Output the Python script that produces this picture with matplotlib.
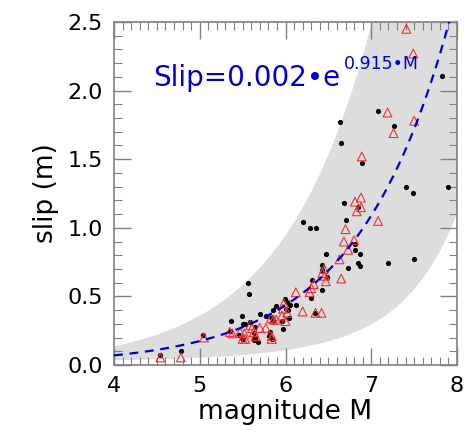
import numpy as np
import matplotlib
matplotlib.use('Agg')
import matplotlib.pyplot as plt

# black dots: magnitude, slip (m)
dot_m = [7.82, 7.08, 6.63, 7.26, 6.65, 6.89, 7.41, 7.49, 7.89, 6.68,
         6.85, 6.70, 6.20, 6.28, 6.35, 6.81, 6.81, 6.87, 6.84, 6.87,
         6.73, 7.19, 7.50, 6.47, 6.43, 6.42, 6.48, 6.31, 6.42, 6.30,
         6.34, 6.12, 5.99, 6.02, 6.05, 6.01, 6.03, 6.04, 5.96, 5.97,
         5.89, 5.85, 5.56, 5.58, 5.37, 5.49, 5.70, 5.77, 5.83, 5.86,
         5.82, 5.81, 5.84, 5.35, 5.51, 5.53, 5.46, 5.49, 5.51, 5.59,
         5.64, 5.63, 5.64, 5.63, 5.68, 5.04, 4.54, 4.78]
dot_slip = [2.11, 1.85, 1.77, 1.74, 1.62, 1.47, 1.30, 1.25, 1.30, 1.18,
            1.15, 1.06, 1.04, 1.00, 1.00, 0.88, 0.84, 0.81, 0.74, 0.72,
            0.71, 0.74, 0.77, 0.81, 0.73, 0.69, 0.64, 0.62, 0.55, 0.49,
            0.38, 0.44, 0.48, 0.46, 0.44, 0.41, 0.40, 0.34, 0.32, 0.26,
            0.43, 0.40, 0.60, 0.52, 0.32, 0.36, 0.37, 0.36, 0.35, 0.32,
            0.24, 0.21, 0.19, 0.25, 0.30, 0.30, 0.22, 0.20, 0.19, 0.31,
            0.28, 0.23, 0.20, 0.18, 0.17, 0.22, 0.07, 0.10]

# red open triangles
tri_m = [7.41, 7.49, 7.19, 7.50, 7.26, 6.89, 6.88, 6.81, 6.88, 6.83,
         7.08, 6.70, 6.68, 6.80, 6.73, 6.63, 6.65, 6.45, 6.43, 6.46,
         6.47, 6.30, 6.33, 6.28, 6.12, 6.20, 6.35, 6.42, 5.98, 5.97,
         5.96, 6.00, 6.02, 5.35, 5.47, 5.52, 5.50, 5.53, 5.59, 5.61,
         5.63, 5.65, 5.70, 5.77, 5.84, 5.83, 5.86, 5.89, 5.05, 4.54,
         4.78, 5.38, 5.84]
tri_slip = [2.45, 2.27, 1.84, 1.78, 1.69, 1.52, 1.22, 1.19, 1.15, 1.12,
            1.05, 0.99, 0.90, 0.91, 0.84, 0.77, 0.63, 0.70, 0.67, 0.65,
            0.61, 0.56, 0.59, 0.53, 0.53, 0.39, 0.38, 0.38, 0.45, 0.41,
            0.36, 0.32, 0.38, 0.24, 0.24, 0.23, 0.19, 0.19, 0.29, 0.27,
            0.24, 0.21, 0.27, 0.27, 0.21, 0.34, 0.33, 0.33, 0.20, 0.055,
            0.055, 0.23, 0.19]

# fitted curve slip = a * exp(b * M)
fit_a = 0.0018
fit_b = 0.915

# shaded band, read at a few magnitudes
band_m = [4.0, 5.0, 6.0, 7.0, 8.0]
band_lo = [0.037, 0.050, 0.10, 0.35, 1.03]
band_hi = [0.135, 0.37, 0.92, 2.5, 6.5]

blue = '#0000cc'
grey = '#808080'

fig = plt.figure(figsize=(4.66, 4.33), dpi=100)
ax = fig.add_axes([114 / 466, 1 - 365 / 433, 343 / 466, 343 / 433])

mm = np.linspace(4, 8, 200)
lo = np.exp(np.polyval(np.polyfit(band_m, np.log(band_lo), 2), mm))
hi = np.exp(np.polyval(np.polyfit(band_m, np.log(band_hi), 2), mm))
ax.fill_between(mm, lo, hi, color='#dddddd', lw=0, zorder=0)

ax.scatter(dot_m, dot_slip, s=14, color='black', zorder=2, lw=0)
ax.scatter(tri_m, tri_slip, s=40, marker='^', facecolor='none',
           edgecolor='#ee3333', lw=0.8, zorder=3)

ax.plot(mm, fit_a * np.exp(fit_b * mm), color=blue, ls=(0, (4, 3)), lw=1.6, zorder=4)

ax.text(0.114, 0.813, 'Slip=0.002\u2022e', transform=ax.transAxes,
        fontsize=20, color=blue, va='baseline', ha='left')
ax.text(0.671, 0.862, '0.915\u2022M', transform=ax.transAxes,
        fontsize=12.5, color=blue, va='baseline', ha='left')

ax.set_xlim(4, 8)
ax.set_ylim(0, 2.5)
ax.set_xticks([4, 5, 6, 7, 8])
ax.set_yticks([0, 0.5, 1.0, 1.5, 2.0, 2.5])
ax.set_yticklabels(['0.0', '0.5', '1.0', '1.5', '2.0', '2.5'])
ax.set_xticks(np.arange(4, 8.01, 0.1), minor=True)
ax.set_yticks(np.arange(0, 2.51, 0.1), minor=True)
ax.tick_params(which='both', direction='in', top=True, right=True, color=grey)
ax.tick_params(which='major', length=12, width=1, labelsize=16, pad=8)
ax.tick_params(which='minor', length=6, width=0.8)
for s in ax.spines.values():
    s.set_color(grey)
    s.set_linewidth(1.2)

ax.set_xlabel('magnitude M', fontsize=19, labelpad=2)
ax.set_ylabel('slip (m)', fontsize=19, labelpad=6)

fig.savefig('out.png', dpi=100)
